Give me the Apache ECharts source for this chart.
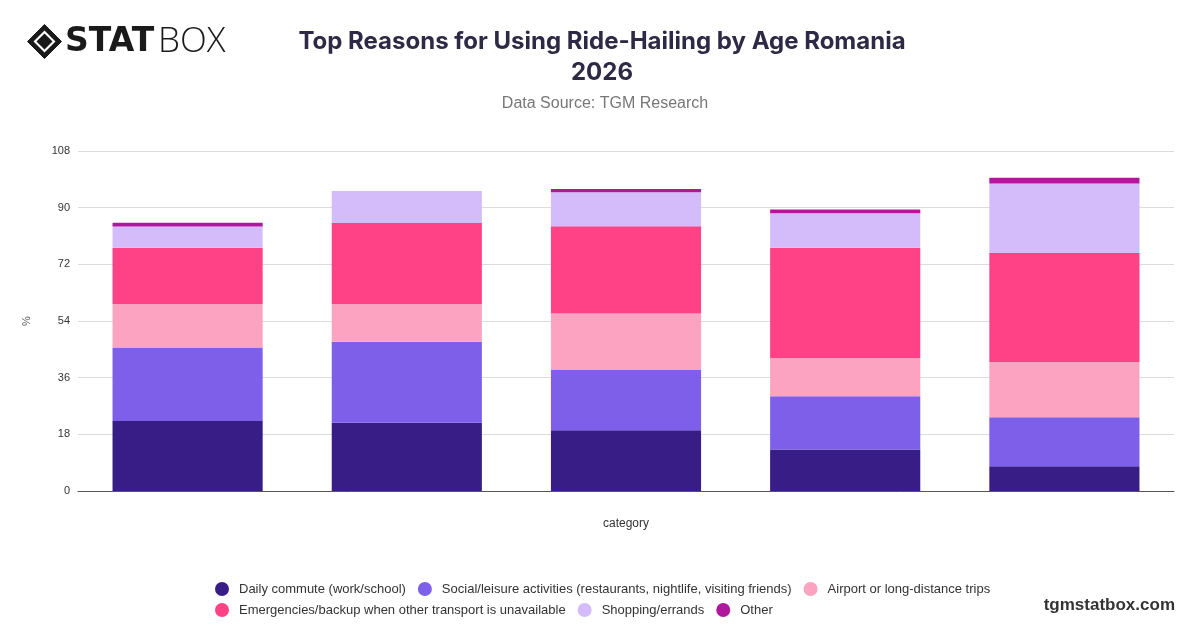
<!DOCTYPE html>
<html>
<head>
<meta charset="utf-8">
<script src="https://cdn.jsdelivr.net/npm/echarts@6/dist/echarts.min.js"></script>
<style>
html,body{margin:0;padding:0;background:#fff;}
#chart{width:1200px;height:628px;}
</style>
</head>
<body>
<div id="chart"></div>
<script>
const categories = ["18-24", "25-34", "35-44", "45-54", "55+"];
const seriesNames = [
  "Daily commute (work/school)",
  "Social/leisure activities (restaurants, nightlife, visiting friends)",
  "Airport or long-distance trips",
  "Emergencies/backup when other transport is unavailable",
  "Shopping/errands",
  "Other"
];
const dailyCommute = [22.2, 21.7, 19.3, 13.2, 7.9];
const socialLeisure = [23.4, 25.7, 19.1, 16.9, 15.5];
const airportTrips = [13.8, 12.0, 18.0, 12.1, 17.6];
const emergencies = [17.9, 25.7, 27.7, 35.1, 34.6];
const shopping = [6.7, 10.2, 10.8, 10.9, 22.1];
const other = [1.2, 0, 1.0, 1.2, 1.8];
const yTicks = [0, 18, 36, 54, 72, 90, 108];

const colors = ["#371d85", "#7d5fea", "#fca3c1", "#ff4185", "#d4bcfa", "#b0179d"];
const seriesData = [dailyCommute, socialLeisure, airportTrips, emergencies, shopping, other];

const legendText = {fontFamily: 'Liberation Sans', fontSize: 13, color: '#333', padding: [0, 0, 0, 5]};

const chart = echarts.init(document.getElementById('chart'), null, {renderer: 'canvas'});
const option = {
  backgroundColor: '#fff',
  color: colors,
  title: [
    {
      text: 'Top Reasons for Using Ride-Hailing by Age Romania\n2026',
      left: 597, top: 21, textAlign: 'center',
      textStyle: {fontFamily: 'Inter', fontWeight: 'bold', fontSize: 24, color: '#2e2a45', lineHeight: 31}
    },
    {
      text: 'Data Source: TGM Research',
      left: 600, top: 91, textAlign: 'center',
      textStyle: {fontFamily: 'Liberation Sans', fontWeight: 'normal', fontSize: 16, color: '#777'}
    }
  ],
  graphic: [
    {
      type: 'group', left: 27, top: 24,
      children: [
        {type: 'polygon', shape: {points: [[17,0],[34,17],[17,34],[0,17]]}, style: {fill: '#1a1a1a', stroke: '#1a1a1a', lineWidth: 1, lineJoin: 'round'}},
        {type: 'polygon', shape: {points: [[17,6],[28,17],[17,28],[6,17]]}, style: {fill: '#fff'}},
        {type: 'polygon', shape: {points: [[17,9],[25,17],[17,25],[9,17]]}, style: {fill: '#1a1a1a'}}
      ]
    },
    {
      type: 'text', left: 65, top: 26,
      style: {text: 'STAT', font: '900 33px "DejaVu Sans"', fill: '#1a1a1a'}
    },
    {
      type: 'text', left: 158, top: 25,
      style: {text: 'BOX', font: '300 35px "Open Sans"', fill: '#1a1a1a'}
    },
    {
      type: 'text', right: 25, top: 597,
      style: {text: 'tgmstatbox.com', font: 'bold 17px "Liberation Sans"', fill: '#333'}
    }
  ],
  legend: [
    {
      data: seriesNames.slice(0, 3),
      left: 210, top: 577,
      icon: 'circle', itemWidth: 14, itemHeight: 14, itemGap: 12,
      textStyle: legendText
    },
    {
      data: seriesNames.slice(3),
      left: 210, top: 598,
      icon: 'circle', itemWidth: 14, itemHeight: 14, itemGap: 12,
      textStyle: legendText
    }
  ],
  grid: {left: 78, right: 26, top: 151, bottom: 137, containLabel: false},
  xAxis: {
    type: 'category', data: categories,
    name: 'category', nameLocation: 'middle', nameGap: 27,
    nameTextStyle: {fontFamily: 'Liberation Sans', fontSize: 12, color: '#333'},
    axisLabel: {show: false}, axisTick: {show: false},
    axisLine: {lineStyle: {color: '#555', width: 1}}
  },
  yAxis: {
    type: 'value', min: 0, max: 108, interval: 18,
    name: '%', nameLocation: 'middle', nameGap: 46,
    nameTextStyle: {fontFamily: 'Liberation Sans', fontSize: 11, color: '#555'},
    axisLabel: {fontFamily: 'Liberation Sans', fontSize: 11, color: '#333', margin: 8,
      formatter: v => yTicks.includes(v) ? String(v) : ''},
    splitLine: {lineStyle: {color: '#dcdcdc'}},
    axisLine: {show: false}, axisTick: {show: false}
  },
  series: seriesNames.map((n, i) => ({
    name: n, type: 'bar', stack: 'total', barWidth: '68.5%',
    data: seriesData[i],
    itemStyle: {color: colors[i]}
  }))
};
chart.setOption(option);
</script>
</body>
</html>
